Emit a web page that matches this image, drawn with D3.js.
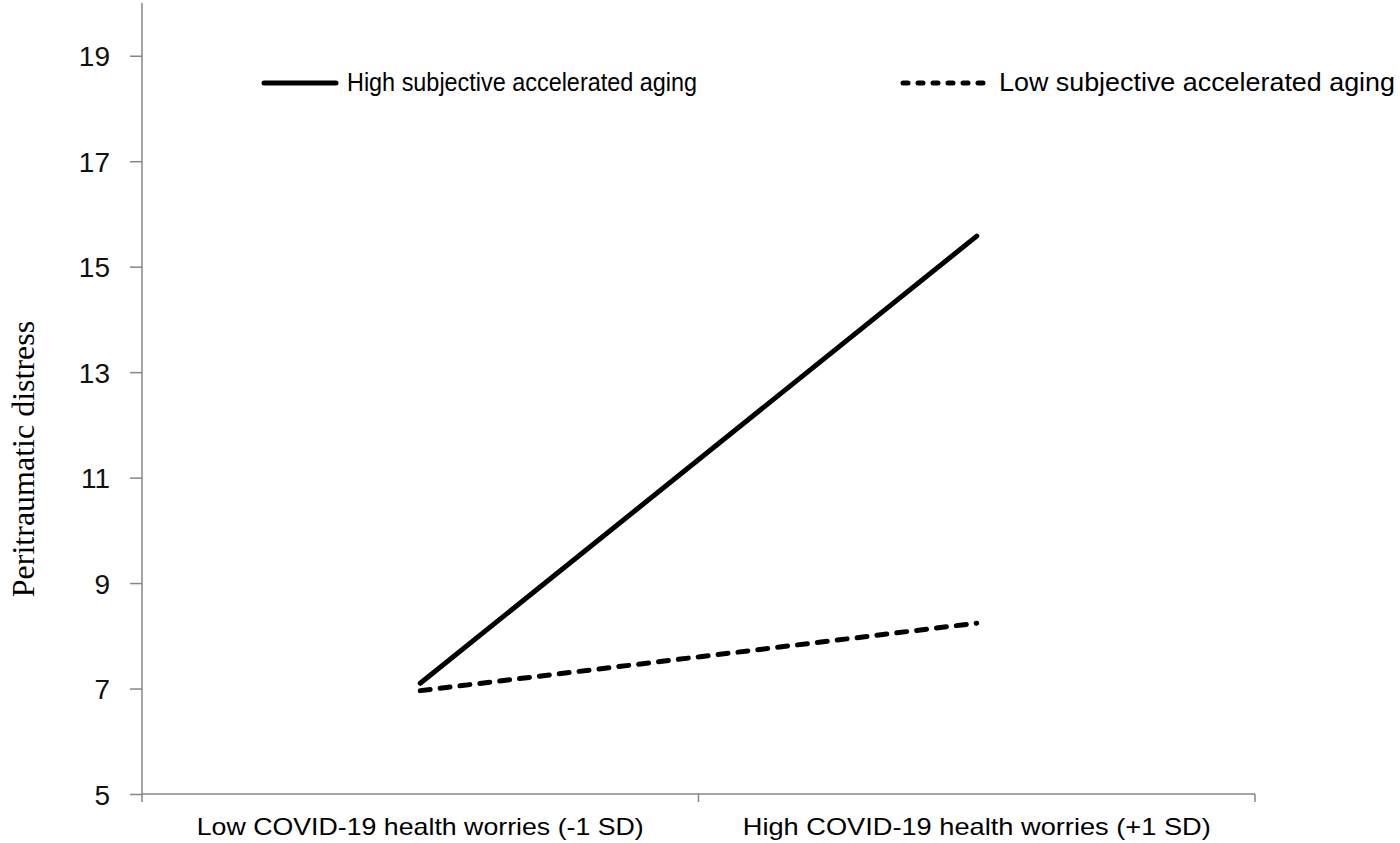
<!DOCTYPE html>
<html>
<head>
<meta charset="utf-8">
<script src="https://cdn.jsdelivr.net/npm/d3@7"></script>
<style>
  html, body { margin: 0; padding: 0; background: #fff; }
  svg { display: block; }
</style>
</head>
<body>
<svg id="chart" width="1400" height="843"></svg>
<script>
// ---- data ----
const categories = ["Low COVID-19 health worries (-1 SD)", "High COVID-19 health worries (+1 SD)"];
const seriesNames = ["High subjective accelerated aging", "Low subjective accelerated aging"];
const highAging = [7.1, 15.58];
const lowAging = [6.96, 8.24];
const yTicks = [5, 7, 9, 11, 13, 15, 17, 19];
const yTitle = "Peritraumatic distress";

// ---- layout ----
const svg = d3.select("#chart");
const plotLeft = 142, plotRight = 1255, plotTop = 3, plotBottom = 794;

const x = d3.scaleBand().domain(categories).range([plotLeft, plotRight]).padding(0);
const y = d3.scaleLinear().domain([5, 20]).range([plotBottom, plotTop]);

const axisColor = "#868686";

// y axis
const yAxis = svg.append("g")
  .attr("transform", `translate(${plotLeft},0)`)
  .call(d3.axisLeft(y).tickValues(yTicks).tickSize(12).tickPadding(20).tickFormat(d3.format("d")));
yAxis.select(".domain").attr("stroke", axisColor).attr("stroke-width", 1.5)
  .attr("d", `M0,${plotBottom}V${plotTop}`);
yAxis.selectAll(".tick line").attr("stroke", axisColor).attr("stroke-width", 1.5);
yAxis.selectAll(".tick text")
  .attr("font-family", "'Liberation Sans', Arial, sans-serif")
  .attr("font-size", 28).attr("fill", "#111").attr("dy", "0.36em");

// x axis
const xAxis = svg.append("g").attr("transform", `translate(0,${plotBottom})`);
xAxis.append("line").attr("x1", plotLeft).attr("x2", plotRight).attr("y1", 0).attr("y2", 0)
  .attr("stroke", axisColor).attr("stroke-width", 1.5);
const boundaries = categories.map(c => x(c)).concat([x(categories[categories.length - 1]) + x.bandwidth()]);
xAxis.selectAll("line.tk").data(boundaries).join("line").attr("class", "tk")
  .attr("x1", d => d).attr("x2", d => d).attr("y1", 0).attr("y2", 8)
  .attr("stroke", axisColor).attr("stroke-width", 1.5);
const xLabelWidths = [447, 468];
xAxis.selectAll("text.xl").data(categories).join("text").attr("class", "xl")
  .attr("x", d => x(d) + x.bandwidth() / 2)
  .attr("y", 41)
  .attr("text-anchor", "middle")
  .attr("font-family", "'Liberation Sans', Arial, sans-serif")
  .attr("font-size", 24)
  .attr("textLength", (d, i) => xLabelWidths[i])
  .attr("lengthAdjust", "spacingAndGlyphs")
  .attr("fill", "#000")
  .text(d => d);

// y title
svg.append("text")
  .attr("transform", `translate(34,${459}) rotate(-90)`)
  .attr("text-anchor", "middle")
  .attr("font-family", "'Liberation Serif', 'Times New Roman', serif")
  .attr("font-size", 32)
  .attr("fill", "#000")
  .text(yTitle);

// lines
const line = d3.line().x((d, i) => x(categories[i]) + x.bandwidth() / 2).y(d => y(d));
const series = [
  { name: seriesNames[0], values: highAging, dash: null, legendDash: null },
  { name: seriesNames[1], values: lowAging, dash: "10,10", legendDash: "5,10" }
];
svg.selectAll("path.series").data(series).join("path").attr("class", "series")
  .attr("d", d => line(d.values))
  .attr("fill", "none").attr("stroke", "#000").attr("stroke-width", 5)
  .attr("stroke-linecap", "round")
  .attr("stroke-dasharray", d => d.dash);

// legend
const legendItems = [
  { x1: 264, x2: 336, tx: 347, tw: 350 },
  { x1: 903, x2: 988, tx: 999, tw: 396 }
];
const lg = svg.selectAll("g.legend").data(series).join("g").attr("class", "legend");
lg.append("line")
  .attr("x1", (d, i) => legendItems[i].x1).attr("x2", (d, i) => legendItems[i].x2)
  .attr("y1", 83).attr("y2", 83)
  .attr("stroke", "#000").attr("stroke-width", 5).attr("stroke-linecap", "round")
  .attr("stroke-dasharray", d => d.legendDash);
lg.append("text")
  .attr("x", (d, i) => legendItems[i].tx).attr("y", 91)
  .attr("font-family", "'Liberation Sans', Arial, sans-serif")
  .attr("font-size", 25)
  .attr("textLength", (d, i) => legendItems[i].tw)
  .attr("lengthAdjust", "spacingAndGlyphs")
  .attr("fill", "#000")
  .text(d => d.name);
</script>
</body>
</html>
